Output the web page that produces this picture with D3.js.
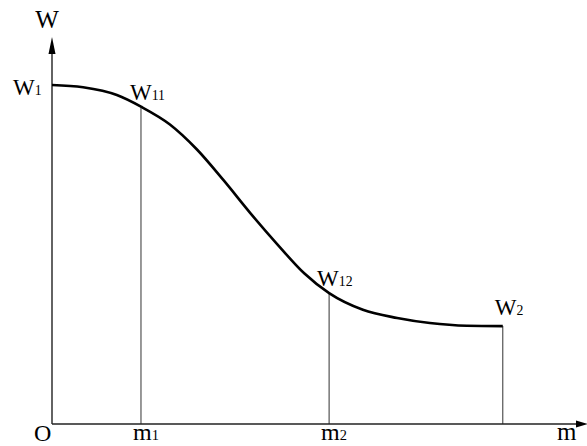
<!DOCTYPE html>
<html><head><meta charset="utf-8">
<script src="https://cdn.jsdelivr.net/npm/d3@7"></script>
<style>html,body{margin:0;padding:0;background:#fff;overflow:hidden}</style>
</head><body><svg id="c" width="587" height="446"></svg>
<script>
// curve W(m), arbitrary units
const curveM = [0, 5.8, 12.1, 16.6, 22.0, 27.0, 32.0, 37.0, 42.0, 47.0, 51.7, 58.0, 64.4, 70.5, 77.4, 84.1];
const curveW = [87.6, 87.0, 85.0, 82.0, 77.4, 71.0, 63.0, 54.5, 46.5, 39.0, 33.8, 29.5, 27.4, 26.1, 25.4, 25.3];
// marked points
const markM = [16.6, 51.7, 84.1];
const markW = [82.0, 33.8, 25.3];
const markBase = ["W", "W", "W"];
const markSub = ["11", "12", "2"];
// x-axis labels
const xLabM = [16.6, 51.7];
const xLabBase = ["m", "m"];
const xLabSub = ["1", "2"];

const svg = d3.select("#c");
const x = d3.scaleLinear().domain([0, 100]).range([52, 588]);
const y = d3.scaleLinear().domain([0, 100]).range([424, 37]);
const font = "'Liberation Serif','Times New Roman',serif";

// vertical guide lines
svg.selectAll("line.v").data(markM).enter().append("line")
  .attr("x1", d => x(d)).attr("x2", d => x(d))
  .attr("y1", y(0)).attr("y2", (d, i) => y(markW[i]))
  .attr("stroke", "#444").attr("stroke-width", 1.1);

// axes
svg.append("line").attr("x1", x(0)).attr("x2", 580).attr("y1", y(0)).attr("y2", y(0))
  .attr("stroke", "#222").attr("stroke-width", 1.4);
svg.append("line").attr("x1", x(0)).attr("x2", x(0)).attr("y1", y(0)).attr("y2", 50)
  .attr("stroke", "#222").attr("stroke-width", 1.4);
svg.append("path").attr("d", `M${x(0)},37 L${x(0)-3.5},54 L${x(0)+3.5},54 Z`).attr("fill", "#000");
svg.append("path").attr("d", `M588,${y(0)} L576,${y(0)-3.5} L576,${y(0)+3.5} Z`).attr("fill", "#000");

// curve
const pts = curveM.map((m, i) => [m, curveW[i]]);
svg.append("path").datum(pts)
  .attr("d", d3.line().x(d => x(d[0])).y(d => y(d[1])).curve(d3.curveMonotoneX))
  .attr("fill", "none").attr("stroke", "#000").attr("stroke-width", 2.6);

function label(xp, yp, base, sub, size, anchor) {
  const t = svg.append("text").attr("x", xp).attr("y", yp)
    .attr("font-family", font).attr("font-size", size).attr("fill", "#000")
    .attr("text-anchor", anchor || "start");
  t.append("tspan").text(base);
  if (sub) t.append("tspan").attr("font-size", size * 0.6).text(sub);
}

// axis names
label(x(0) - 5, 28, "W", null, 25, "middle");
label(34, 441, "O", null, 24);
label(557, 440, "m", null, 25);
// W1 on y axis
label(13, 95, "W", "1", 23);
// point labels
const off = [[-11, -7], [-12, -7], [-8, -11]];
markM.forEach((m, i) => label(x(m) + off[i][0], y(markW[i]) + off[i][1], markBase[i], markSub[i], 23));
// x labels
xLabM.forEach((m, i) => label(x(m) - 8, 440, xLabBase[i], xLabSub[i], 24));
</script></body></html>
